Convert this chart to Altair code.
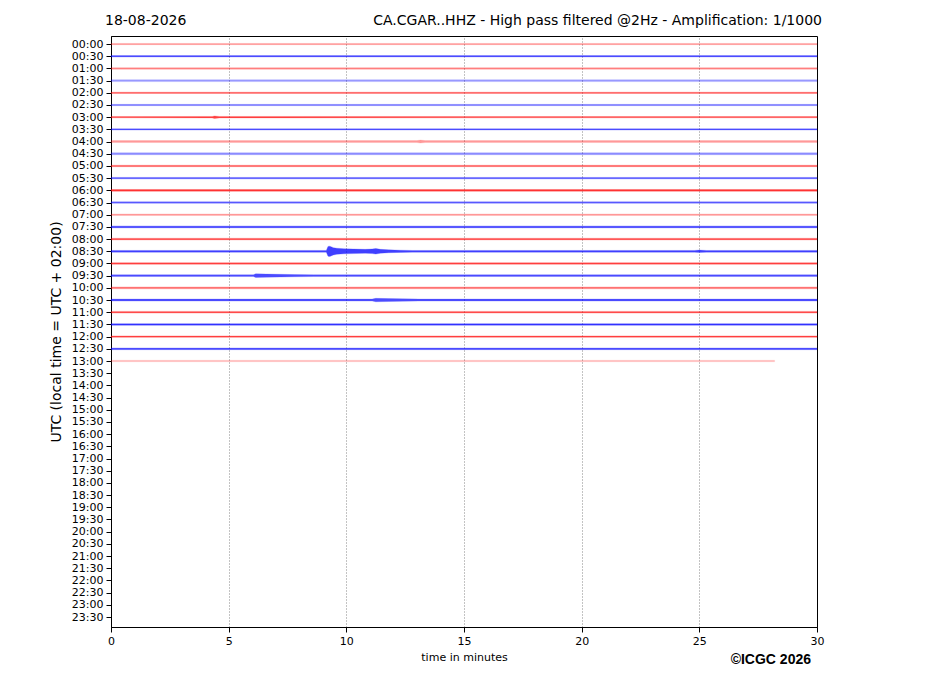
import altair as alt
import pandas as pd

# ---- data ----
row_labels = [f"{h:02d}:{m:02d}" for h in range(24) for m in (0, 30)]
rows_recorded = list(range(27))              # 00:00 ... 13:00 have data
row_end_min = [30.0] * 26 + [28.2]           # last row stops at ~28.2 min
row_noise = [0.05, 0.06, 0.06, 0.08, 0.05, 0.05, 0.05, 0.05, 0.08, 0.08,
             0.06, 0.06, 0.07, 0.06, 0.06, 0.08, 0.07, 0.07, 0.06, 0.07,
             0.08, 0.08, 0.07, 0.06, 0.06, 0.07, 0.06]
row_intensity = [0.45, 0.7, 0.5, 0.4, 0.7, 0.7, 0.75, 0.7, 0.4, 0.45,
                 0.65, 0.75, 0.8, 0.65, 0.4, 0.65, 0.65, 0.75, 0.75, 0.7,
                 0.55, 0.7, 0.7, 0.8, 0.75, 0.7, 0.28]

# event envelopes: (row, minutes, half amplitude in row units)
ev_0300_t = [4.3, 4.4, 4.6]
ev_0300_a = [0.06, 0.10, 0.06]
ev_0400_t = [13.0, 13.15, 13.35]
ev_0400_a = [0.08, 0.12, 0.08]
ev_0830_t = [9.15, 9.22, 9.3, 9.45, 9.6, 9.9, 10.3, 10.8, 11.1, 11.25, 11.45, 11.8, 12.3, 12.8, 24.8, 25.0, 25.3]
ev_0830_a = [0.07, 0.40, 0.42, 0.30, 0.25, 0.21, 0.19, 0.16, 0.19, 0.23, 0.16, 0.12, 0.09, 0.07, 0.07, 0.10, 0.07]
ev_0930_t = [6.05, 6.15, 6.6, 7.2, 7.8, 8.6]
ev_0930_a = [0.07, 0.15, 0.13, 0.11, 0.09, 0.07]
ev_1030_t = [11.1, 11.25, 11.8, 12.4, 13.1]
ev_1030_a = [0.08, 0.14, 0.12, 0.10, 0.08]
events = {6: (ev_0300_t, ev_0300_a), 8: (ev_0400_t, ev_0400_a),
          17: (ev_0830_t, ev_0830_a), 19: (ev_0930_t, ev_0930_a),
          21: (ev_1030_t, ev_1030_a)}

x_ticks = [0, 5, 10, 15, 20, 25, 30]

# ---- build table ----
recs = []
for r in rows_recorded:
    pts = [(0.0, row_noise[r]), (row_end_min[r], row_noise[r])]
    if r in events:
        pts += list(zip(*events[r]))
    color = "red" if r % 2 == 0 else "blue"
    for t, a in pts:
        recs.append({"row": r, "t": t, "lo": r - a, "hi": r + a,
                     "c": color, "op": row_intensity[r]})
df = pd.DataFrame(recs)

W, H = 706, 591
label_js = "[" + ",".join(f"'{s}'" for s in row_labels) + "]"

xs = alt.Scale(domain=[0, 30], nice=False, zero=False)
ys = alt.Scale(domain=[-0.66, 47.82], reverse=True, nice=False, zero=False)

traces = alt.Chart(df).mark_area(orient="vertical", strokeWidth=0.25).encode(
    x=alt.X("t:Q", scale=xs, title="time in minutes",
            axis=alt.Axis(values=x_ticks, format="d", grid=True)),
    y=alt.Y("lo:Q", scale=ys, title="UTC (local time = UTC + 02:00)",
            axis=alt.Axis(values=list(range(48)), labelExpr=label_js + "[datum.value]",
                          grid=False)),
    y2="hi:Q",
    detail="row:N",
    color=alt.Color("c:N", scale=None),
    stroke=alt.Stroke("c:N", scale=None),
    opacity=alt.Opacity("op:Q", scale=None),
)

txt = pd.DataFrame({"k": [0]})
date_t = alt.Chart(txt).mark_text(text="18-08-2026", align="left", baseline="alphabetic",
                                  font="DejaVu Sans", fontSize=14, color="black").encode(
    x=alt.value(-6), y=alt.value(-11))
title_t = alt.Chart(txt).mark_text(
    text="CA.CGAR..HHZ - High pass filtered @2Hz - Amplification: 1/1000",
    align="right", baseline="alphabetic", font="DejaVu Sans", fontSize=14,
    color="black").encode(x=alt.value(711), y=alt.value(-11))
copy_t = alt.Chart(txt).mark_text(text="©ICGC 2026", align="right", baseline="alphabetic",
                                  font="Liberation Sans", fontWeight="bold", fontSize=14,
                                  color="black").encode(x=alt.value(700), y=alt.value(628))

chart = alt.layer(traces, date_t, title_t, copy_t).properties(
    width=W, height=H,
    autosize=alt.AutoSizeParams(type="none"),
    padding={"left": 103, "top": 28, "right": 100, "bottom": 50},
).configure_view(stroke="black", strokeWidth=1).configure_axis(
    domainColor="black", domainWidth=1, tickColor="black", tickSize=5, tickWidth=1,
    labelFont="DejaVu Sans", labelFontSize=11, labelColor="black", labelPadding=3,
    titleFont="DejaVu Sans", titleFontWeight="normal", titleColor="black",
    gridColor="black", gridDash=[1, 2], gridWidth=0.6, gridOpacity=0.8,
).configure_axisY(titleFontSize=14, titlePadding=8).configure_axisX(
    titleFontSize=11, titlePadding=5, labelFlush=False)

chart.save("out.html", embed_options={"renderer": "svg", "actions": False})
